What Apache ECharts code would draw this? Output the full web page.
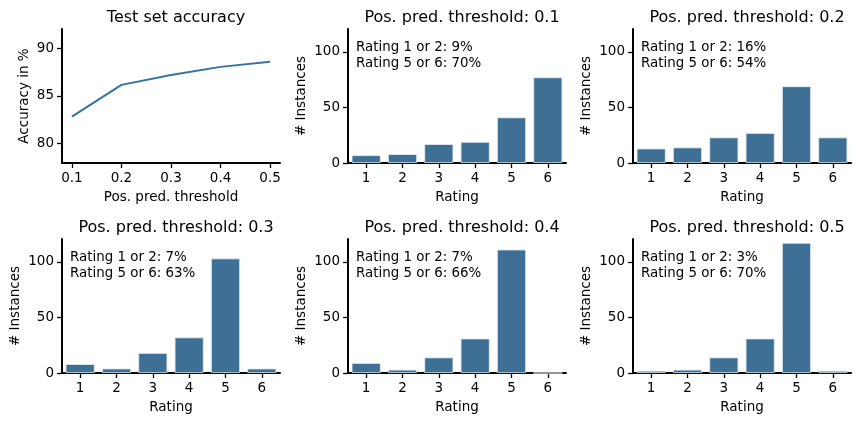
<!DOCTYPE html>
<html>
<head>
<meta charset="utf-8">
<script src="https://cdn.jsdelivr.net/npm/echarts@6/dist/echarts.min.js"></script>
<style>
html,body{margin:0;padding:0;background:#fff;}
#main{width:860px;height:423px;}
</style>
</head>
<body>
<div id="main"></div>
<script>
// ---- data ----
const thresholds = [0.1, 0.2, 0.3, 0.4, 0.5];
const accuracy = [82.8, 86.15, 87.2, 88.05, 88.6];
const ratings = ['1', '2', '3', '4', '5', '6'];
const counts_01 = [7, 8, 17, 19, 41, 77];
const counts_02 = [13, 14, 23, 27, 69, 23];
const counts_03 = [8, 4, 18, 32, 103, 4];
const counts_04 = [9, 3, 14, 31, 111, 0];
const counts_05 = [2, 3, 14, 31, 117, 2];
const panelTitles = ['Test set accuracy', 'Pos. pred. threshold: 0.1', 'Pos. pred. threshold: 0.2',
  'Pos. pred. threshold: 0.3', 'Pos. pred. threshold: 0.4', 'Pos. pred. threshold: 0.5'];
const lowShare = ['9%', '16%', '7%', '7%', '3%'];
const highShare = ['70%', '54%', '63%', '66%', '70%'];
const accTicks = [80, 85, 90];
const countTicks = [0, 50, 100];
const thrTicks = [0.1, 0.2, 0.3, 0.4, 0.5];

const barSets = [counts_01, counts_02, counts_03, counts_04, counts_05];

// ---- layout ----
const FONT = 'DejaVu Sans';
const cols = [62, 348, 633];
const rows = [29, 239];
const W = 218, H = 134;
const grids = [];
for (let r = 0; r < 2; r++) for (let c = 0; c < 3; c++) grids.push({left: cols[c], top: rows[r], width: W, height: H});

const axisLine = {show: true, lineStyle: {color: '#000', width: 2}};
const axisTick = {show: true, length: 5, lineStyle: {color: '#000', width: 1.3}};
const labelStyle = {color: '#000', fontSize: 13.5, fontFamily: FONT};
const nameStyle = {color: '#000', fontSize: 13.5, fontFamily: FONT};

const xAxes = [], yAxes = [], series = [], titles = [], graphics = [];

// panel 0: line
xAxes.push({
  gridIndex: 0, type: 'value', min: 0.08, max: 0.52,
  axisLine: axisLine, axisTick: Object.assign({customValues: thrTicks}, axisTick),
  axisLabel: Object.assign({customValues: thrTicks, margin: 8, formatter: v => v.toFixed(1)}, labelStyle),
  splitLine: {show: false},
  name: 'Pos. pred. threshold', nameLocation: 'middle', nameGap: 27, nameTextStyle: nameStyle
});
yAxes.push({
  gridIndex: 0, type: 'value', min: 77.9, max: 92.05,
  axisLine: axisLine, axisTick: Object.assign({customValues: accTicks}, axisTick),
  axisLabel: Object.assign({customValues: accTicks, margin: 8}, labelStyle),
  splitLine: {show: false},
  name: 'Accuracy in %', nameLocation: 'middle', nameGap: 31, nameTextStyle: nameStyle
});
series.push({
  type: 'line', xAxisIndex: 0, yAxisIndex: 0,
  data: thresholds.map((t, i) => [t, accuracy[i]]),
  symbol: 'none', lineStyle: {color: '#3274a6', width: 2}, itemStyle: {color: '#3274a6'}
});

for (let k = 0; k < 5; k++) {
  const gi = k + 1;
  xAxes.push({
    gridIndex: gi, type: 'category', data: ratings,
    axisLine: axisLine, axisTick: Object.assign({alignWithLabel: true}, axisTick),
    axisLabel: Object.assign({margin: 8}, labelStyle),
    splitLine: {show: false},
    name: 'Rating', nameLocation: 'middle', nameGap: 27, nameTextStyle: nameStyle
  });
  yAxes.push({
    gridIndex: gi, type: 'value', min: 0, max: 120.5,
    axisLine: axisLine, axisTick: Object.assign({customValues: countTicks}, axisTick),
    axisLabel: Object.assign({customValues: countTicks, margin: 8}, labelStyle),
    splitLine: {show: false},
    name: '# Instances', nameLocation: 'middle', nameGap: 40, nameTextStyle: nameStyle
  });
  series.push({
    type: 'bar', xAxisIndex: gi, yAxisIndex: gi, data: barSets[k], barWidth: '80%',
    itemStyle: {color: '#3e7095', borderColor: '#e6eef5', borderWidth: 0.8},
    silent: true
  });
  graphics.push({
    type: 'text', left: grids[gi].left + 8, top: grids[gi].top + 11,
    style: {
      text: 'Rating 1 or 2: ' + lowShare[k] + '\nRating 5 or 6: ' + highShare[k],
      font: '13.4px "' + FONT + '"', fill: '#000', lineHeight: 15.7
    }
  });
}

for (let i = 0; i < 6; i++) {
  titles.push({
    text: panelTitles[i], left: grids[i].left + W / 2, top: grids[i].top - 24, textAlign: 'center',
    textStyle: {color: '#000', fontSize: 16, fontWeight: 'normal', fontFamily: FONT}
  });
}

const chart = echarts.init(document.getElementById('main'), null, {renderer: 'canvas'});
chart.setOption({
  animation: false,
  backgroundColor: '#fff',
  title: titles,
  grid: grids,
  xAxis: xAxes,
  yAxis: yAxes,
  series: series,
  graphic: graphics
});
</script>
</body>
</html>
